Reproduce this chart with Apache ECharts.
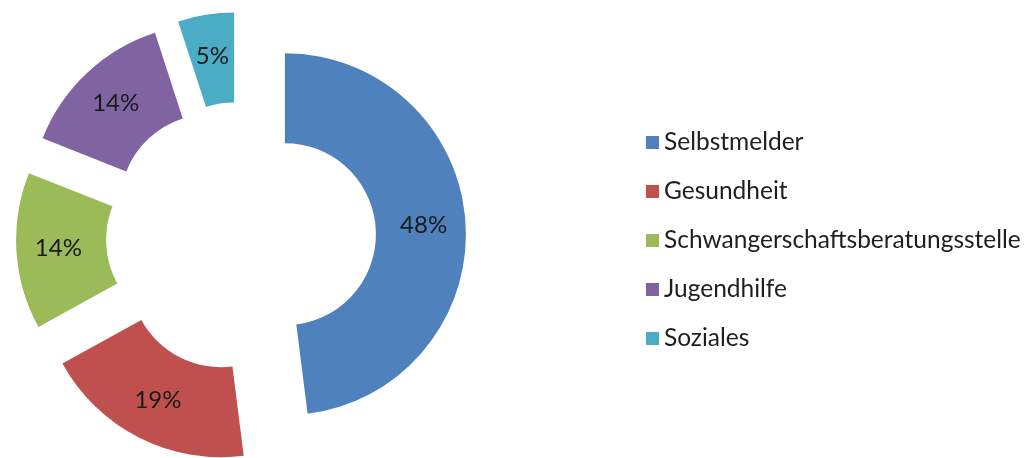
<!DOCTYPE html>
<html>
<head>
	<meta charset="UTF-8" />
	<title>Zugangswege</title>
	<style>
		html, body { margin: 0; padding: 0; background: #fff; }
		#chart { width: 1027px; height: 458px; }
	</style>
	<script type="text/javascript" src="https://cdn.jsdelivr.net/npm/echarts@6/dist/echarts.min.js"></script>
</head>
<body>
	<div id="chart"></div>
	<script>
		// Daten
		var categories = ["Selbstmelder", "Gesundheit", "Schwangerschaftsberatungsstelle", "Jugendhilfe", "Soziales"];
		var values = [48, 19, 14, 14, 5];
		var colors = ["#4F81BD", "#C0504D", "#9BBB59", "#8064A2", "#4BACC6"];

		var myChart = echarts.init(document.getElementById("chart"));

		var seriesData = [];
		for (var i = 0; i < categories.length; i++) {
			seriesData.push({
				name: categories[i],
				value: values[i],
				selected: true // alle Segmente herausgezogen
			});
		}

		var option = {
			animation: false,
			color: colors,
			legend: {
				orient: "vertical",
				left: 641,
				top: 125,
				itemWidth: 13,
				itemHeight: 13,
				itemGap: 24,
				icon: "rect",
				selectedMode: false,
				textStyle: {
					fontFamily: "Lato",
					fontSize: 24.5,
					lineHeight: 24,
					color: "#1e1e1e"
				},
				data: categories
			},
			series: [{
				type: "pie",
				center: [241, 237],
				radius: [91, 181],
				startAngle: 90,
				selectedMode: "multiple",
				selectedOffset: 44,
				avoidLabelOverlap: false,
				emphasis: { disabled: true },
				label: {
					show: true,
					position: "inside",
					formatter: function (p) {
						return p.value + "%";
					},
					fontFamily: "Lato",
					fontSize: 24,
					color: "#1a1a1a"
				},
				labelLine: { show: false },
				data: seriesData
			}]
		};

		myChart.setOption(option);
	</script>
</body>
</html>
